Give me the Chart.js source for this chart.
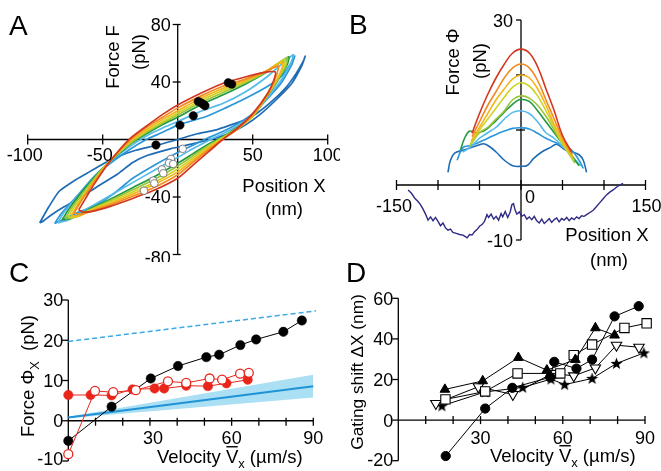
<!DOCTYPE html>
<html><head><meta charset="utf-8">
<script src="https://cdn.jsdelivr.net/npm/chart.js@4/dist/chart.umd.min.js"></script>
<style>
html,body{margin:0;padding:0;background:#fff;width:661px;height:471px;overflow:hidden;position:relative;}
canvas{position:absolute;}
</style></head><body>
<canvas id="cA" width="340" height="262" style="left:0;top:0"></canvas>
<canvas id="cB" width="321" height="275" style="left:340px;top:0"></canvas>
<canvas id="cC" width="340" height="209" style="left:0;top:262px"></canvas>
<canvas id="cD" width="331" height="209" style="left:330px;top:262px"></canvas>
<script>
// ---------------- Panel A data (position nm, force pN) ----------------
const aXTicks = [-100, -50, 50, 100];
const aYTicks = [80, 40, -40, -80];
const loopDarkBlue = [[-92,-58],[-86,-47],[-79,-36],[-68,-28],[-58,-22],[-48,-16],[-40,-12],[-28,-7.5],[-14,-4],[0,0],[13,4],[25,6.5],[35,10],[48,15],[61,25],[72,36],[79,46],[84,55],[85,58],[83,52],[76,39],[66,28],[55,17.5],[45,10],[35,4.5],[22,0],[10,-3],[-5,-6.5],[-20,-11],[-30,-16],[-40,-24],[-54,-33],[-66,-41],[-76,-47],[-85,-53],[-90,-57],[-92,-58]];
const loopBlue = [[-82,-58.5],[-78,-52],[-66,-38],[-54,-24],[-32,-7],[-20,0.5],[-10,5],[0,10],[19,16],[32,22],[46,29],[60,37],[70,45],[76,54],[78,58],[76,52],[68,38],[50,18],[40,11],[30,5.5],[20,1],[10,-4],[0,-9],[-15,-17.5],[-30,-27],[-43,-38],[-55,-46],[-65,-50],[-75,-55],[-82,-58.5]];
const loopLightBlue = [[-80,-58],[-76,-51],[-64,-36],[-52,-22],[-32,-5],[-20,3],[-10,8],[0,12.5],[15,19.5],[30,25],[45,33],[60,44],[77,59],[75,52],[68,40],[50,17],[40,9.5],[30,4],[20,-1],[10,-6.5],[0,-12.5],[-15,-21],[-30,-30],[-45,-39],[-60,-48],[-73,-56],[-80,-58]];
const loopGreen = [[-77,-56],[-73,-49],[-62,-34],[-50,-20],[-32,-3.5],[-20,4.5],[-10,10.5],[0,15.5],[15,24],[30,31],[45,38.5],[58,46],[74,57.5],[73,52],[66,40],[50,16],[40,8.5],[30,2],[20,-3.5],[10,-10],[0,-16.5],[-15,-25.5],[-30,-33.5],[-45,-41.5],[-60,-49],[-71,-55],[-77,-56]];
const loopYellowGreen = [[-75,-55],[-71,-48],[-60,-33],[-49,-19],[-32,-3],[-20,5.5],[-10,11.5],[0,17],[15,25.5],[30,32.5],[45,39.5],[58,46.5],[73,57],[72,51],[65,39],[50,16],[40,8],[30,1.5],[20,-4.5],[10,-11.5],[0,-18.5],[-15,-27.5],[-30,-35],[-45,-42.5],[-60,-49.5],[-70,-54.5],[-75,-55]];
const loopYellow = [[-73,-54],[-69,-47],[-58,-32],[-48,-18],[-32,-2],[-20,6.5],[-10,12.5],[0,18.5],[15,27],[30,34],[45,40.5],[58,47],[71.5,56],[70.5,50],[64,38],[50,16],[40,7.5],[30,1],[20,-5.5],[10,-13],[0,-20.5],[-15,-29.5],[-30,-36.5],[-45,-43.5],[-60,-50],[-68,-54],[-73,-54]];
const loopGold = [[-71,-53],[-67,-46],[-57,-31],[-47,-17],[-32,-1.5],[-20,7.5],[-10,14],[0,20],[15,28.5],[30,35.5],[45,41],[58,47],[70,54],[69,48],[63,36],[50,16.5],[40,7.5],[30,0.5],[20,-6.5],[10,-14.5],[0,-22.5],[-15,-31],[-30,-38],[-45,-44.5],[-59,-50],[-66,-53.5],[-71,-53]];
const loopOrange = [[-69,-51],[-65,-44],[-56,-30],[-46,-16],[-32,-0.5],[-20,9],[-10,15.5],[0,22],[15,30],[30,37],[45,42],[57,46.5],[67,51],[66,45],[61,34],[50,17],[40,7.5],[30,0],[20,-7.5],[10,-16],[0,-24.5],[-15,-33],[-30,-39.5],[-45,-45.5],[-58,-50],[-65,-52],[-69,-51]];
const loopRed = [[-66,-49],[-62,-42],[-55,-30],[-45,-15],[-32,0.5],[-20,10],[-10,17.5],[0,24],[15,32],[30,39],[45,43.5],[57,46.5],[65,47],[64,41],[60,32],[50,18],[40,8],[30,0],[20,-9],[10,-18],[0,-27],[-15,-35],[-30,-41],[-45,-46.5],[-57,-50],[-63,-50.5],[-66,-49]];
const aBlackDots = [[-14.5,-3.8],[1.5,10],[10.4,16.5],[13.7,26.5],[15.5,25.5],[17,24.5],[18.2,23.5],[33.7,39.5],[36,38.5]];
const aWhiteDots = [[3.3,-6.5],[-4.5,-13.5],[-5.8,-16.3],[-3,-17],[-10.5,-20.8],[-9.6,-23.5],[-16.3,-28.6],[-15.6,-30.5],[-22.5,-35.6]];

// ---------------- Panel B data (position nm, force pN) ----------------
const bXTicks = [-150, -100, -50, 0, 50, 100, 150];
const bYTicks = [30, 20, 10, -10];
const bRed = [[-59,9.4],[-50,13],[-40,16.5],[-30,19.5],[-20,22],[-10,24],[0,24.7],[10,24],[20,21.5],[30,17.5],[40,13.5],[50,9],[61,6]];
const bOrange = [[-59,8.8],[-50,11.5],[-40,14.5],[-30,17],[-20,19.5],[-10,21.3],[0,22],[10,21.3],[20,19],[30,15.5],[40,12],[50,8.5],[62,5.5]];
const bGold = [[-60,8],[-50,10.5],[-40,13],[-30,15.5],[-20,17.5],[-10,19.3],[0,20],[10,19.5],[20,17.5],[30,14.5],[40,11],[50,8],[63,5]];
const bYellow = [[-61,7.5],[-50,10],[-40,12],[-30,14],[-20,16],[-10,17.8],[0,18.6],[10,18],[20,16.2],[30,13.5],[40,10.5],[50,7.5],[64,4.5]];
const bYellowGreen = [[-62,7],[-50,9.5],[-40,10.5],[-30,12],[-20,13.5],[-10,15.5],[0,16.2],[10,15.8],[20,14.5],[30,12.5],[40,10],[50,7.5],[65,4]];
const bGreen = [[-73,6.3],[-68,8.5],[-62,9.8],[-55,9.5],[-45,9.8],[-35,11],[-25,12.5],[-15,14],[-5,15.3],[0,15.6],[10,15.2],[20,13.5],[30,11.5],[40,9.5],[50,7.5],[60,5.5],[70,3.5]];
const bLightBlue = [[-70,6],[-60,7],[-50,8.5],[-40,9.5],[-30,10.5],[-20,12],[-10,13.2],[0,13.5],[10,13],[20,11.5],[30,9.5],[40,8.5],[50,7],[60,5.5],[72,3.5]];
const bBlue = [[-77,4.5],[-70,6.8],[-60,7.2],[-50,7.8],[-40,8.5],[-30,9.2],[-20,9.8],[-10,10.3],[0,10.4],[10,10.2],[20,9.4],[30,8.5],[40,7.8],[50,7.2],[60,6.5],[70,4.5],[75,3]];
const bDarkBlue = [[-88,2.3],[-85,4.5],[-80,5.8],[-70,6.3],[-60,6.8],[-50,7.3],[-45,7.5],[-38,7],[-30,6],[-20,4.5],[-10,3.5],[0,3.4],[8,3.6],[15,4.8],[25,6],[35,6.8],[43,7.4],[52,6.5],[62,6],[70,5.5],[75,4.5],[79,2.3]];
const bPurple = [[-136,-0.9],[-132,-1.5],[-128,-2.4],[-124,-3.0],[-121,-3.6],[-118,-4.4],[-115,-5.3],[-112,-6.4],[-109,-5.8],[-106,-6.5],[-103,-5.9],[-100,-6.6],[-97,-7.4],[-94,-6.9],[-91,-7.8],[-88,-8.2],[-85,-8.0],[-82,-8.6],[-78,-8.8],[-74,-9.0],[-70,-9.1],[-67,-9.4],[-65,-9.6],[-62,-9.0],[-59,-9.1],[-56,-8.5],[-53,-8.1],[-50,-7.5],[-47,-7.2],[-44,-6.6],[-41,-5.4],[-39,-5.9],[-36,-5.3],[-33,-6.2],[-30,-5.7],[-27,-6.4],[-24,-5.2],[-22,-5.8],[-19,-4.8],[-16,-5.9],[-13,-4.9],[-11,-3.6],[-9,-3.4],[-7,-4.6],[-5,-5.3],[-2,-4.9],[1,-5.7],[4,-5.4],[7,-6.2],[10,-5.8],[13,-6.3],[16,-5.7],[19,-6.5],[22,-6.9],[25,-6.2],[28,-7.0],[31,-6.6],[34,-6.1],[37,-6.8],[40,-6.3],[43,-6.0],[46,-6.7],[49,-6.1],[52,-6.4],[55,-5.9],[58,-6.5],[61,-6.0],[64,-6.3],[67,-5.8],[70,-6.1],[73,-5.6],[76,-5.7],[79,-5.4],[83,-5.0],[87,-4.6],[91,-3.9],[95,-3.2],[99,-2.5],[103,-1.8],[107,-1.3],[111,-0.9],[115,-0.4],[119,0.0],[123,0.3]];

// ---------------- Panel C data (velocity um/s, force pN) ----------------
const cXTicks = [10,20,30,40,50,60,70,80,90];
const cXLabels = [30,60,90];
const cYTicks = [30,20,10,0,-10];
const cBlackX = [0,15.9,30.3,40.3,50.7,55.4,63.2,69.0,79.0,85.8];
const cBlackY = [-5.0,3.5,10.5,13.6,15.8,16.4,18.8,20.2,22.1,24.9];
const cRedFilledX = [0,8.2,15.9,23.6,31.7,35.2,43.3,51.3,58.1,65.9];
const cRedFilledY = [6.4,6.4,6.3,7.8,8.0,8.0,8.7,8.6,9.3,10.2];
const cRedOpenX = [0,9.8,16.5,24.8,36.6,43.3,51.9,56.5,63.1,66.3];
const cRedOpenY = [-8.3,7.4,7.1,7.6,9.8,9.4,10.5,10.2,11.7,11.9];
const cFitX = [0,90];
const cFitY = [0.8,8.6];
const cBandHi = [1.0,11.4];
const cBandLo = [0.6,5.8];
const cDashX = [0,91];
const cDashY = [19.7,27.3];

// ---------------- Panel D data (velocity um/s, gating shift nm) ----------------
const dXTicks = [10,20,30,40,50,60,70,80,90];
const dXLabels = [30,60,90];
const dYTicks = [60,40,20,0,-20];
const dCircleX = [17.3,31.7,41.6,55.4,56.9,65.0,70.7,78.9,87.7];
const dCircleY = [-17.7,5.7,15.9,21.1,28.7,25.4,29.8,51.1,56.1];
const dTriX = [17.0,30.8,43.8,54.2,64.6,71.9,78.9];
const dTriY = [15.1,19.3,30.8,24.6,29.8,45.4,41.8];
const dSquareX = [17.2,31.7,43.5,59.1,64.0,70.7,82.5,90.6];
const dSquareY = [10.2,14.1,23.0,23.0,32.0,37.2,45.4,47.7];
const dDownX = [13.7,29.2,41.8,56.2,64.0,71.9,79.6,87.8];
const dDownY = [8.2,16.4,12.6,23.0,21.8,25.7,36.9,35.9];
const dStarX = [15.9,31.7,45.4,55.7,60.7,70.7,79.6,89.6];
const dStarY = [7.0,13.9,16.1,20.2,17.5,20.5,27.9,33.1];

// ---------------- helpers ----------------
const FONT = '"Liberation Sans", Arial, Helvetica, sans-serif';
const TS = 18; // tick label size
const LS = 18.5; // axis title size
function pts(a){ return a.map(p=>({x:p[0],y:p[1]})); }
function zip(xs,ys){ return xs.map((x,i)=>({x:x,y:ys[i]})); }
function ln(ctx,x1,y1,x2,y2,w){ ctx.save(); ctx.strokeStyle='#000'; ctx.lineWidth=w||1.3; ctx.beginPath(); ctx.moveTo(x1,y1); ctx.lineTo(x2,y2); ctx.stroke(); ctx.restore(); }
function rich(ctx, parts, x, y, rot, size, align){
  ctx.save(); ctx.translate(x,y); if(rot) ctx.rotate(rot);
  const sub = size*0.7; let total=0;
  parts.forEach(p=>{ ctx.font=(p.sub?sub:size)+'px '+FONT; p.w=ctx.measureText(p.t).width; total+=p.w; });
  let cx = align==='left'?0:(align==='right'?-total:-total/2);
  const base = size*0.36;
  ctx.fillStyle='#000'; ctx.textBaseline='alphabetic'; ctx.textAlign='left';
  parts.forEach(p=>{ ctx.font=(p.sub?sub:size)+'px '+FONT;
    ctx.fillText(p.t,cx,base+(p.sub?size*0.28:0));
    if(p.over){ ctx.strokeStyle='#000'; ctx.lineWidth=1.4; ctx.beginPath(); ctx.moveTo(cx+0.5,base-size*0.86); ctx.lineTo(cx+p.w-0.5,base-size*0.86); ctx.stroke(); }
    cx+=p.w; });
  ctx.restore();
}
function T(ctx,s,x,y,align,size){ rich(ctx,[{t:s}],x,y,0,size||TS,align); }
function letter(ctx,s,x,base){ ctx.save(); ctx.font='28px '+FONT; ctx.fillStyle='#000'; ctx.textAlign='left'; ctx.textBaseline='alphabetic'; ctx.fillText(s,x,base); ctx.restore(); }
function baseOpts(pad, xr, yr){
  return { responsive:false, animation:false, events:[],
    layout:{padding:pad, autoPadding:false},
    scales:{ x:{type:'linear',display:false,min:xr[0],max:xr[1]}, y:{type:'linear',display:false,min:yr[0],max:yr[1]} },
    plugins:{legend:{display:false}, tooltip:{enabled:false}} };
}
function loopDs(a,color){ return {data:pts(a),showLine:true,borderColor:color,borderWidth:1.7,pointRadius:0,tension:0.2,fill:false,clip:false,borderJoinStyle:'round'}; }
function curveDs(a,color,w,t){ return {data:pts(a),showLine:true,borderColor:color,borderWidth:w||1.6,pointRadius:0,tension:(t===undefined?0.4:t),fill:false,clip:false}; }

const COL = {dark:'#1f6cb4', blue:'#2b97d8', light:'#55bbea', green:'#21993f', yg:'#9bc43c', yellow:'#cdd425', gold:'#f4b41a', orange:'#f28a1f', red:'#d2381f', purple:'#2e2a86'};

// ---------------- Panel A ----------------
new Chart(document.getElementById('cA'), {
  type:'scatter',
  data:{datasets:[
    {data:pts(aBlackDots),pointRadius:4.2,backgroundColor:'#000',borderColor:'#000',borderWidth:0.5,clip:false},
    {data:pts(aWhiteDots),pointRadius:3.8,backgroundColor:'#fff',borderColor:'#666',borderWidth:0.8,clip:false},
    loopDs(loopRed,COL.red), loopDs(loopOrange,COL.orange), loopDs(loopGold,COL.gold), loopDs(loopYellow,COL.yellow),
    loopDs(loopYellowGreen,COL.yg), loopDs(loopGreen,COL.green), loopDs(loopLightBlue,COL.light), loopDs(loopBlue,COL.blue), loopDs(loopDarkBlue,COL.dark)
  ]},
  options: baseOpts({left:27.7,right:12.3,top:24.5,bottom:7.5},[-100,100],[-80,80]),
  plugins:[{id:'axA', beforeDatasetsDraw(ch){ const c=ch.ctx,x=ch.scales.x,y=ch.scales.y; const x0=x.getPixelForValue(0), y0=y.getPixelForValue(0);
      ln(c,x.getPixelForValue(-100),y0,x.getPixelForValue(100),y0); ln(c,x0,y.getPixelForValue(80),x0,y.getPixelForValue(-80));
      aXTicks.forEach(v=>{const p=x.getPixelForValue(v); ln(c,p,y0-5,p,y0+5);});
      aYTicks.forEach(v=>{const p=y.getPixelForValue(v); ln(c,x0-5,p,x0+3,p);}); },
    afterDraw(ch){ const c=ch.ctx,x=ch.scales.x,y=ch.scales.y; const x0=x.getPixelForValue(0), y0=y.getPixelForValue(0);
      aXTicks.forEach(v=>T(c,String(v),x.getPixelForValue(v)-(v<0?3:0),y0+15,'center'));
      aYTicks.forEach(v=>T(c,String(v),x0-7,y.getPixelForValue(v)+(v===-80?3:0),'right'));
      letter(c,'A',9,35);
      rich(c,[{t:'Force F'}],112,57,-Math.PI/2,LS);
      rich(c,[{t:'(pN)'}],138,52,-Math.PI/2,LS);
      rich(c,[{t:'Position X'}],284,185,0,LS);
      rich(c,[{t:'(nm)'}],284,208,0,LS); } }]
});

// ---------------- Panel B ----------------
new Chart(document.getElementById('cB'), {
  type:'scatter',
  data:{datasets:[
    curveDs(bRed,COL.red), curveDs(bOrange,COL.orange), curveDs(bGold,COL.gold), curveDs(bYellow,COL.yellow), curveDs(bYellowGreen,COL.yg),
    curveDs(bGreen,COL.green), curveDs(bLightBlue,COL.light), curveDs(bBlue,COL.blue), curveDs(bDarkBlue,COL.dark),
    curveDs(bPurple,COL.purple,1.4,0)
  ]},
  options: baseOpts({left:56.5,right:15.5,top:20,bottom:35},[-150,150],[-10,30]),
  plugins:[{id:'axB', beforeDatasetsDraw(ch){ const c=ch.ctx,x=ch.scales.x,y=ch.scales.y; const x0=x.getPixelForValue(0), y0=y.getPixelForValue(0);
      ln(c,x.getPixelForValue(-150),y0,x.getPixelForValue(150),y0); ln(c,x0,y.getPixelForValue(30),x0,y.getPixelForValue(-10));
      bXTicks.forEach(v=>{const p=x.getPixelForValue(v); ln(c,p,y0-5,p,y0+5);});
      bYTicks.forEach(v=>{const p=y.getPixelForValue(v); ln(c,x0-5,p,x0+((v===10||v===20)?4:0),p);}); },
    afterDraw(ch){ const c=ch.ctx,x=ch.scales.x,y=ch.scales.y; const x0=x.getPixelForValue(0), y0=y.getPixelForValue(0);
      T(c,'30',x0-8,y.getPixelForValue(30)+1,'right');
      T(c,'-10',x0-8,y.getPixelForValue(-10)+1,'right');
      T(c,'-150',x.getPixelForValue(-150)-2.5,y0+21,'center');
      T(c,'150',x.getPixelForValue(150)+1,y0+21,'center');
      T(c,'0',x0+9,y0+12,'center');
      letter(c,'B',9,34);
      rich(c,[{t:'Force Φ'}],112,62,-Math.PI/2,LS);
      rich(c,[{t:'(pN)'}],139,61,-Math.PI/2,LS);
      rich(c,[{t:'Position X'}],267,234,0,LS);
      rich(c,[{t:'(nm)'}],269,259,0,LS); } }]
});

// ---------------- Panel C ----------------
new Chart(document.getElementById('cC'), {
  type:'scatter',
  data:{datasets:[
    {data:zip(cRedOpenX,cRedOpenY),showLine:true,borderColor:'#e8261c',borderWidth:1,pointRadius:4.5,pointBackgroundColor:'#fff',pointBorderColor:'#e8261c',pointBorderWidth:1.3,tension:0,clip:false},
    {data:zip(cRedFilledX,cRedFilledY),showLine:true,borderColor:'#e8261c',borderWidth:1,pointRadius:4.7,pointBackgroundColor:'#e8261c',pointBorderColor:'#e8261c',pointBorderWidth:0.5,tension:0,clip:false},
    {data:zip(cBlackX,cBlackY),showLine:true,borderColor:'#000',borderWidth:1,pointRadius:4.7,pointBackgroundColor:'#000',pointBorderColor:'#000',pointBorderWidth:0.5,tension:0,clip:false},
    {data:zip(cFitX,cFitY),showLine:true,borderColor:'#1f93d6',borderWidth:2,pointRadius:0,tension:0,clip:false},
    {data:zip(cDashX,cDashY),showLine:true,borderColor:'#3aa9e6',borderWidth:1.5,borderDash:[5,3],pointRadius:0,tension:0,clip:false},
    {data:zip(cFitX,cBandHi),showLine:true,borderWidth:0,borderColor:'rgba(0,0,0,0)',pointRadius:0,backgroundColor:'#aadff4',fill:'+1',tension:0,clip:false},
    {data:zip(cFitX,cBandLo),showLine:true,borderWidth:0,borderColor:'rgba(0,0,0,0)',pointRadius:0,fill:false,tension:0,clip:false}
  ]},
  options: baseOpts({left:68.3,right:26.7,top:38,bottom:10},[0,90],[-10,30]),
  plugins:[{id:'axC', beforeDatasetsDraw(ch){ const c=ch.ctx,x=ch.scales.x,y=ch.scales.y; const x0=x.getPixelForValue(0), y0=y.getPixelForValue(0);
      ln(c,x0,y0,x.getPixelForValue(90),y0); ln(c,x0,y.getPixelForValue(30),x0,y.getPixelForValue(-10));
      cXTicks.forEach(v=>{const p=x.getPixelForValue(v); ln(c,p,y0-3,p,y0+5);});
      cYTicks.forEach(v=>{const p=y.getPixelForValue(v); ln(c,x0-6,p,x0,p);}); },
    afterDraw(ch){ const c=ch.ctx,x=ch.scales.x,y=ch.scales.y; const x0=x.getPixelForValue(0), y0=y.getPixelForValue(0);
      cYTicks.forEach(v=>T(c,String(v),x0-5,y.getPixelForValue(v)+(v===-10?-2:0),'right'));
      cXLabels.forEach(v=>T(c,String(v),x.getPixelForValue(v)+(v===30?3:0),y0+17,'center'));
      letter(c,'C',9,20);
      rich(c,[{t:'Force Φ'},{t:'X',sub:true},{t:'  (pN)'}],27,114,-Math.PI/2,LS);
      rich(c,[{t:'Velocity '},{t:'V',over:true},{t:'x',sub:true},{t:' (µm/s)'}],157,194,0,LS,'left'); } }]
});

// ---------------- Panel D ----------------
function starImg(){ const cv=document.createElement('canvas'); cv.width=13; cv.height=13; const c=cv.getContext('2d'); c.fillStyle='#000'; c.beginPath();
  for(let i=0;i<10;i++){ const r=i%2?2.6:6.3; const a=-Math.PI/2+i*Math.PI/5; const px=6.5+r*Math.cos(a), py=6.9+r*Math.sin(a); if(i===0)c.moveTo(px,py); else c.lineTo(px,py);} c.closePath(); c.fill(); return cv; }
const STAR = starImg();
new Chart(document.getElementById('cD'), {
  type:'scatter',
  data:{datasets:[
    {data:zip(dCircleX,dCircleY),showLine:true,borderColor:'#000',borderWidth:1,pointRadius:4.6,pointBackgroundColor:'#000',pointBorderColor:'#000',tension:0,clip:false},
    {data:zip(dTriX,dTriY),showLine:true,borderColor:'#000',borderWidth:1,pointStyle:'triangle',pointRadius:5.6,pointBackgroundColor:'#000',pointBorderColor:'#000',tension:0,clip:false},
    {data:zip(dSquareX,dSquareY),showLine:true,borderColor:'#000',borderWidth:1,pointStyle:'rect',pointRadius:6.6,pointBackgroundColor:'#fff',pointBorderColor:'#000',pointBorderWidth:1.1,tension:0,clip:false},
    {data:zip(dDownX,dDownY),showLine:true,borderColor:'#000',borderWidth:1,pointStyle:'triangle',rotation:180,pointRotation:180,pointRadius:6,pointBackgroundColor:'#fff',pointBorderColor:'#000',pointBorderWidth:1.1,tension:0,clip:false},
    {data:zip(dStarX,dStarY),showLine:true,borderColor:'#000',borderWidth:1,pointStyle:STAR,pointRadius:6,tension:0,clip:false}
  ]},
  options: baseOpts({left:68.3,right:16,top:36.3,bottom:10.3},[0,90],[-20,60]),
  plugins:[{id:'axD', beforeDatasetsDraw(ch){ const c=ch.ctx,x=ch.scales.x,y=ch.scales.y; const x0=x.getPixelForValue(0), y0=y.getPixelForValue(0);
      ln(c,x0,y0,x.getPixelForValue(90),y0); ln(c,x0,y.getPixelForValue(60),x0,y.getPixelForValue(-20));
      dXTicks.forEach(v=>{const p=x.getPixelForValue(v); ln(c,p,y0-4,p,y0+4);});
      dYTicks.forEach(v=>{const p=y.getPixelForValue(v); ln(c,x0-6,p,x0,p);}); },
    afterDraw(ch){ const c=ch.ctx,x=ch.scales.x,y=ch.scales.y; const x0=x.getPixelForValue(0), y0=y.getPixelForValue(0);
      dYTicks.forEach(v=>T(c,String(v),x0-5,y.getPixelForValue(v)+(v===-20?-1:0),'right'));
      dXLabels.forEach(v=>T(c,String(v),x.getPixelForValue(v),y0+17,'center'));
      letter(c,'D',16,20);
      rich(c,[{t:'Gating shift ΔX (nm)'}],27,110,-Math.PI/2,17.3);
      rich(c,[{t:'Velocity '},{t:'V',over:true},{t:'x',sub:true},{t:' (µm/s)'}],160,193,0,LS,'left'); } }]
});
</script>
</body></html>
